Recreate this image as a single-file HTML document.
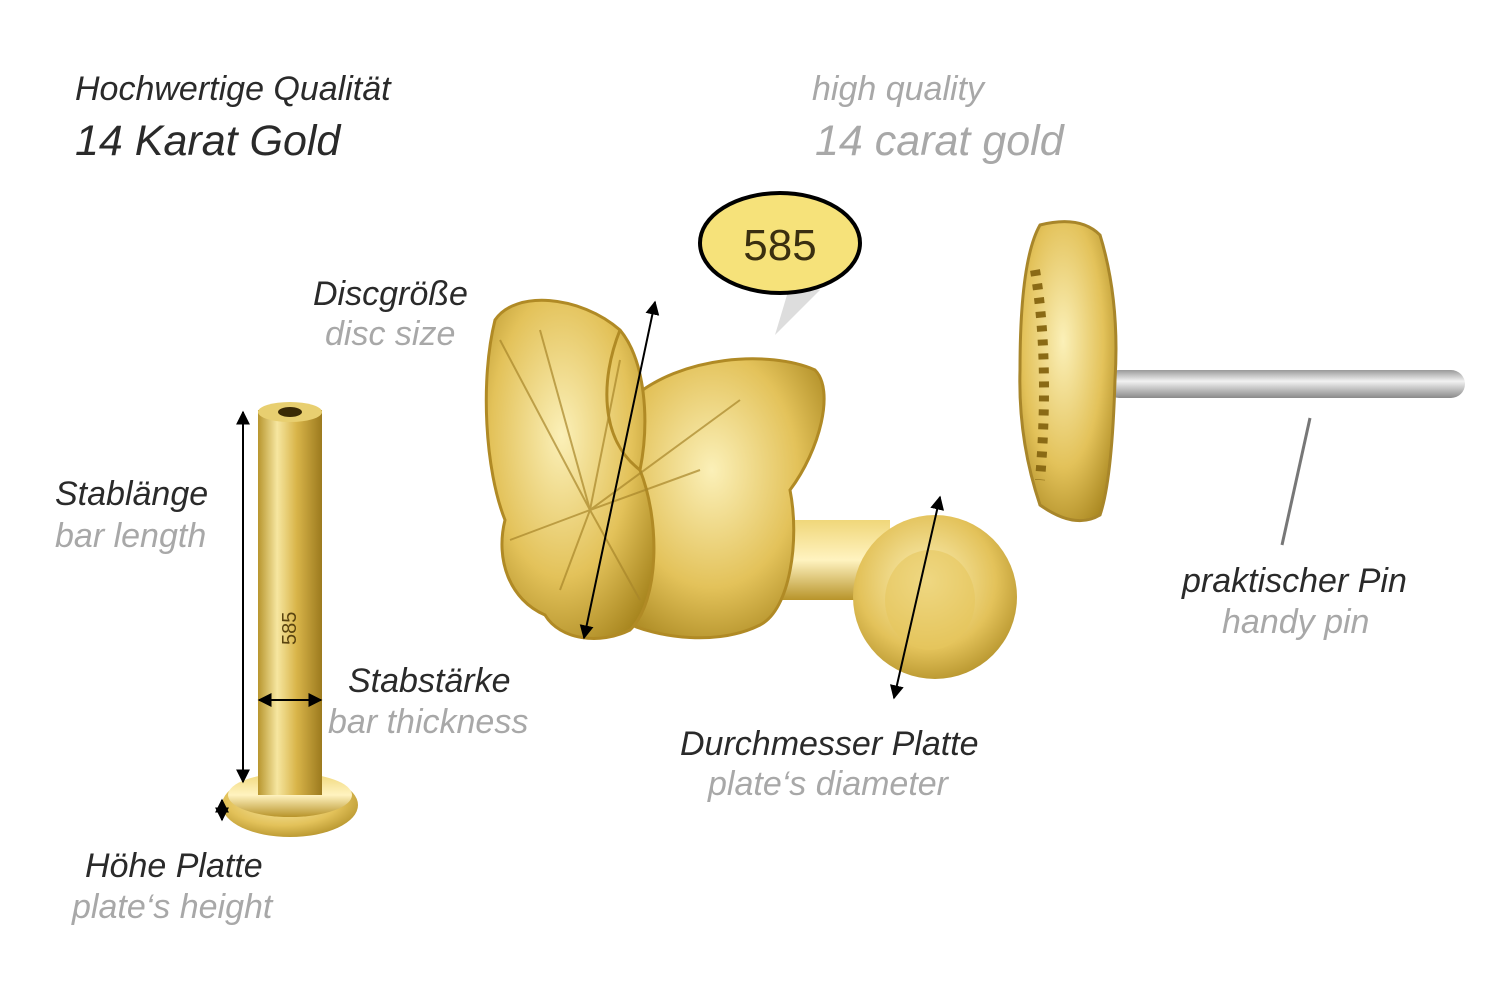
<!DOCTYPE html>
<html><head><meta charset="utf-8"><style>
html,body{margin:0;padding:0;background:#fff;}
svg{display:block;}
text{font-family:"Liberation Sans",sans-serif;font-style:italic;}
.d{fill:#2a2a2a}.g{fill:#a8a8a8}
.n{font-style:normal}
</style></head><body>
<svg width="1500" height="1001" viewBox="0 0 1500 1001" xmlns="http://www.w3.org/2000/svg">
<defs>
<linearGradient id="gb" x1="0" x2="1" y1="0" y2="0">
<stop offset="0" stop-color="#b8962e"/><stop offset="0.3" stop-color="#f6e6a0"/><stop offset="0.6" stop-color="#d9b54a"/><stop offset="1" stop-color="#9c7a1e"/></linearGradient>
<radialGradient id="gr" cx="0.45" cy="0.4" r="0.7">
<stop offset="0" stop-color="#fbf0b8"/><stop offset="0.6" stop-color="#e3c25a"/><stop offset="1" stop-color="#a8861f"/></radialGradient>
<linearGradient id="gv" x1="0" x2="0" y1="0" y2="1">
<stop offset="0" stop-color="#f0d77a"/><stop offset="0.5" stop-color="#fff3c0"/><stop offset="1" stop-color="#b8942a"/></linearGradient>
<linearGradient id="pin" x1="0" x2="0" y1="0" y2="1">
<stop offset="0" stop-color="#999"/><stop offset="0.4" stop-color="#f2f2f2"/><stop offset="1" stop-color="#8a8a8a"/></linearGradient>
<marker id="ah" viewBox="0 0 10 10" refX="9" refY="5" markerWidth="7" markerHeight="7" orient="auto-start-reverse"><path d="M0,0L10,5L0,10z" fill="#000"/></marker>
</defs>

<text x="75" y="100" font-size="34" class="d">Hochwertige Qualität</text>
<text x="75" y="155" font-size="43" class="d">14 Karat Gold</text>
<text x="812" y="100" font-size="34" class="g">high quality</text>
<text x="815" y="155" font-size="43" class="g">14 carat gold</text>

<!-- bar piece -->
<ellipse cx="290" cy="805" rx="68" ry="32" fill="url(#gr)"/>
<ellipse cx="290" cy="795" rx="62" ry="22" fill="url(#gv)"/>
<rect x="258" y="410" width="64" height="385" fill="url(#gb)"/>
<ellipse cx="290" cy="412" rx="32" ry="10" fill="#e8cf70"/>
<ellipse cx="290" cy="412" rx="12" ry="5" fill="#3a2a05"/>
<text x="0" y="0" font-size="20" fill="#5a4410" class="n" transform="translate(296,645) rotate(-90)">585</text>

<!-- labret with butterfly -->
<rect x="720" y="520" width="170" height="80" fill="url(#gv)"/>
<circle cx="935" cy="597" r="82" fill="url(#gr)"/>
<ellipse cx="930" cy="600" rx="45" ry="50" fill="#e6c65e" opacity="0.6"/>
<!-- right wings (back) -->
<path d="M630,400 C680,355 770,350 815,370 C835,390 820,450 790,490 C800,540 790,610 760,625 C720,645 660,640 620,620 Z" fill="url(#gr)" stroke="#b08a25" stroke-width="3"/>
<!-- left wings -->
<path d="M495,320 C515,290 580,295 620,330 C645,360 650,420 640,470 C660,520 660,600 630,630 C600,645 560,640 545,615 C510,600 495,560 505,520 C485,470 480,380 495,320 Z" fill="url(#gr)" stroke="#b08a25" stroke-width="3"/>
<path d="M620,330 C600,380 600,440 640,470" stroke="#b08a25" stroke-width="3" fill="none"/>
<g stroke="#a8862a" stroke-width="2" opacity="0.7">
<line x1="590" y1="510" x2="500" y2="340"/><line x1="590" y1="510" x2="540" y2="330"/><line x1="590" y1="510" x2="620" y2="360"/>
<line x1="590" y1="510" x2="740" y2="400"/><line x1="590" y1="510" x2="700" y2="470"/><line x1="590" y1="510" x2="510" y2="540"/>
<line x1="590" y1="510" x2="560" y2="590"/><line x1="590" y1="510" x2="640" y2="600"/></g>

<!-- 585 bubble -->
<polygon points="775,335 790,285 820,290" fill="#ddd"/>
<ellipse cx="780" cy="243" rx="80" ry="50" fill="#f6e27a" stroke="#000" stroke-width="4"/>
<text x="780" y="260" font-size="44" text-anchor="middle" fill="#3a2f10" class="n">585</text>

<!-- right pin piece -->
<rect x="1105" y="370" width="360" height="28" rx="14" fill="url(#pin)"/>
<path d="M1040,225 Q1080,215 1100,235 Q1120,300 1115,380 Q1112,480 1100,515 Q1075,530 1040,505 Q1018,440 1020,370 Q1020,260 1040,225 Z" fill="url(#gr)" stroke="#a8862a" stroke-width="3"/>
<path d="M1035,270 Q1050,360 1040,480" stroke="#8a6a15" stroke-width="10" fill="none" stroke-dasharray="6,8"/>

<!-- measurement lines -->
<g stroke="#000" stroke-width="2" fill="none">
<line x1="243" y1="412" x2="243" y2="782" marker-start="url(#ah)" marker-end="url(#ah)"/>
<line x1="259" y1="700" x2="321" y2="700" marker-start="url(#ah)" marker-end="url(#ah)"/>
<line x1="222" y1="800" x2="222" y2="820" marker-start="url(#ah)" marker-end="url(#ah)"/>
<line x1="655" y1="302" x2="584" y2="638" marker-start="url(#ah)" marker-end="url(#ah)"/>
<line x1="940" y1="497" x2="894" y2="698" marker-start="url(#ah)" marker-end="url(#ah)"/>
</g>
<line x1="1310" y1="418" x2="1282" y2="545" stroke="#777" stroke-width="3"/>

<text x="313" y="305" font-size="34" class="d">Discgröße</text>
<text x="325" y="345" font-size="34" class="g">disc size</text>
<text x="55" y="505" font-size="34" class="d">Stablänge</text>
<text x="55" y="547" font-size="34" class="g">bar length</text>
<text x="348" y="692" font-size="34" class="d">Stabstärke</text>
<text x="328" y="733" font-size="34" class="g">bar thickness</text>
<text x="680" y="755" font-size="34" class="d">Durchmesser Platte</text>
<text x="708" y="795" font-size="34" class="g">plate‘s diameter</text>
<text x="1182" y="592" font-size="34" class="d">praktischer Pin</text>
<text x="1222" y="633" font-size="34" class="g">handy pin</text>
<text x="85" y="877" font-size="34" class="d">Höhe Platte</text>
<text x="72" y="918" font-size="34" class="g">plate‘s height</text>
</svg>
</body></html>
